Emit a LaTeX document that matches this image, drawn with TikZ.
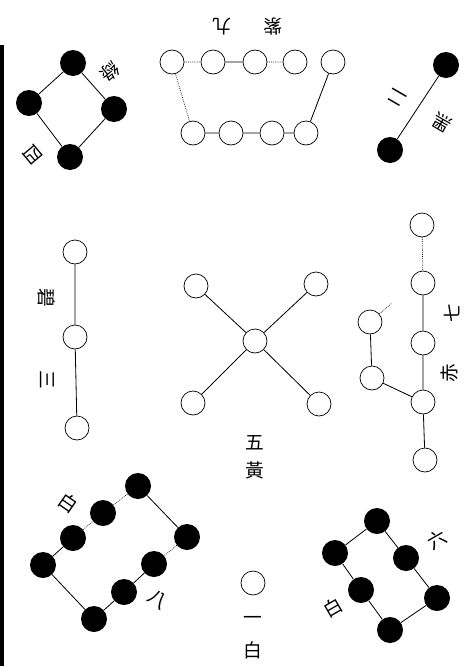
\documentclass[tikz,border=0pt]{standalone}
\usepackage{fontspec}
\newfontfamily\cjk{Noto Sans CJK TC}
\tikzset{
  yin/.style={circle, fill=black, inner sep=0pt, minimum size=0.78cm},
  yang/.style={circle, draw=black, line width=0.6pt, fill=white, inner sep=0pt, minimum size=0.72cm},
  link/.style={line width=0.7pt},
  faint/.style={line width=0.6pt, densely dotted},
  word/.style={font=\cjk\fontsize{16}{16}\selectfont, inner sep=0pt}
}
\begin{document}
\begin{tikzpicture}[x=0.03cm, y=-0.03cm]
  \useasboundingbox (0,0) rectangle (464,666);
  \fill[black] (0,45) rectangle (4,666);

  % four (green), top left
  \node[yin] (f1) at (73,63) {};
  \node[yin] (f2) at (29,103) {};
  \node[yin] (f3) at (114,109) {};
  \node[yin] (f4) at (70,157) {};
  \draw[link] (f1) -- (f2) (f1) -- (f3) (f3) -- (f4) (f2) -- (f4);
  \node[word, rotate=-140] (f5) at (110,72) {綠};
  \node[word, rotate=-140] (f6) at (33,155) {四};

  % nine (purple), top
  \node[yang] (n1) at (172,62) {};
  \node[yang] (n2) at (213,62) {};
  \node[yang] (n3) at (255,62) {};
  \node[yang] (n4) at (295,62) {};
  \node[yang] (n5) at (333,62) {};
  \node[yang] (n6) at (193,133) {};
  \node[yang] (n7) at (231,133) {};
  \node[yang] (n8) at (272,133) {};
  \node[yang] (n9) at (306,133) {};
  \draw[link] (n2) -- (n3) (n6) -- (n7) -- (n8) -- (n9) (n5) -- (n9);
  \draw[faint] (n1) -- (n2) (n3) -- (n4) (n1) -- (n6);
  \node[word, rotate=180] (n10) at (222,27) {九};
  \node[word, rotate=180] (n11) at (273,27) {紫};

  % two (black), top right
  \node[yin] (t1) at (446,65) {};
  \node[yin] (t2) at (390,150) {};
  \draw[link] (t1) -- (t2);
  \node[word, rotate=150] (t3) at (397,97) {二};
  \node[word, rotate=150] (t4) at (442,123) {黑};

  % three (jade), left
  \node[yang] (h1) at (75,252) {};
  \node[yang] (h2) at (75,337) {};
  \node[yang] (h3) at (77,428) {};
  \draw[link] (h1) -- (h2) -- (h3);
  \node[word, rotate=-90] (h4) at (47,298) {碧};
  \node[word, rotate=-90] (h5) at (47,380) {三};

  % five (yellow), centre
  \node[yang] (c0) at (255,341) {};
  \node[yang] (c1) at (196,286) {};
  \node[yang] (c2) at (316,284) {};
  \node[yang] (c3) at (193,403) {};
  \node[yang] (c4) at (319,404) {};
  \draw[link] (c0) -- (c1) (c0) -- (c2) (c0) -- (c3) (c0) -- (c4);
  \node[word] (c5) at (255,443) {五};
  \node[word] (c6) at (255,470) {黃};

  % seven (red), right
  \node[yang] (s1) at (422,225) {};
  \node[yang] (s2) at (423,283) {};
  \node[yang] (s3) at (423,343) {};
  \node[yang] (s4) at (423,402) {};
  \node[yang] (s5) at (425,460) {};
  \node[yang] (s6) at (370,322) {};
  \node[yang] (s7) at (372,378) {};
  \coordinate (s8) at (392,303);
  \draw[faint] (s1) -- (s2) (s6) -- (s8);
  \draw[link] (s2) -- (s3) -- (s4) -- (s5) (s6) -- (s7) -- (s4);
  \node[word, rotate=90] (s9) at (452,313) {七};
  \node[word, rotate=90] (s10) at (449,373) {赤};

  % eight (white), bottom left
  \node[yin] (e1) at (138,486) {};
  \node[yin] (e2) at (103,513) {};
  \node[yin] (e3) at (73,538) {};
  \node[yin] (e4) at (43,565) {};
  \node[yin] (e5) at (94,619) {};
  \node[yin] (e6) at (124,592) {};
  \node[yin] (e7) at (154,564) {};
  \node[yin] (e8) at (187,537) {};
  \draw[link] (e1) -- (e8) (e7) -- (e6) -- (e5) -- (e4) -- (e3);
  \draw[faint] (e8) -- (e7) (e3) -- (e2) -- (e1);
  \node[word, rotate=-35] (e9) at (68,503) {白};
  \node[word, rotate=-35] (e10) at (158,600) {八};

  % one (white), bottom
  \node[yang] (o1) at (253,583) {};
  \node[word] (o2) at (253,620) {一};
  \node[word] (o3) at (253,650) {白};

  % six (white), bottom right
  \node[yin] (x1) at (377,521) {};
  \node[yin] (x2) at (335,553) {};
  \node[yin] (x3) at (361,590) {};
  \node[yin] (x4) at (390,630) {};
  \node[yin] (x5) at (437,598) {};
  \node[yin] (x6) at (406,558) {};
  \draw[link] (x1) -- (x2) -- (x3) -- (x4) -- (x5) -- (x6) -- (x1);
  \node[word, rotate=30] (x7) at (437,540) {六};
  \node[word, rotate=30] (x8) at (333,608) {白};
\end{tikzpicture}
\end{document}
